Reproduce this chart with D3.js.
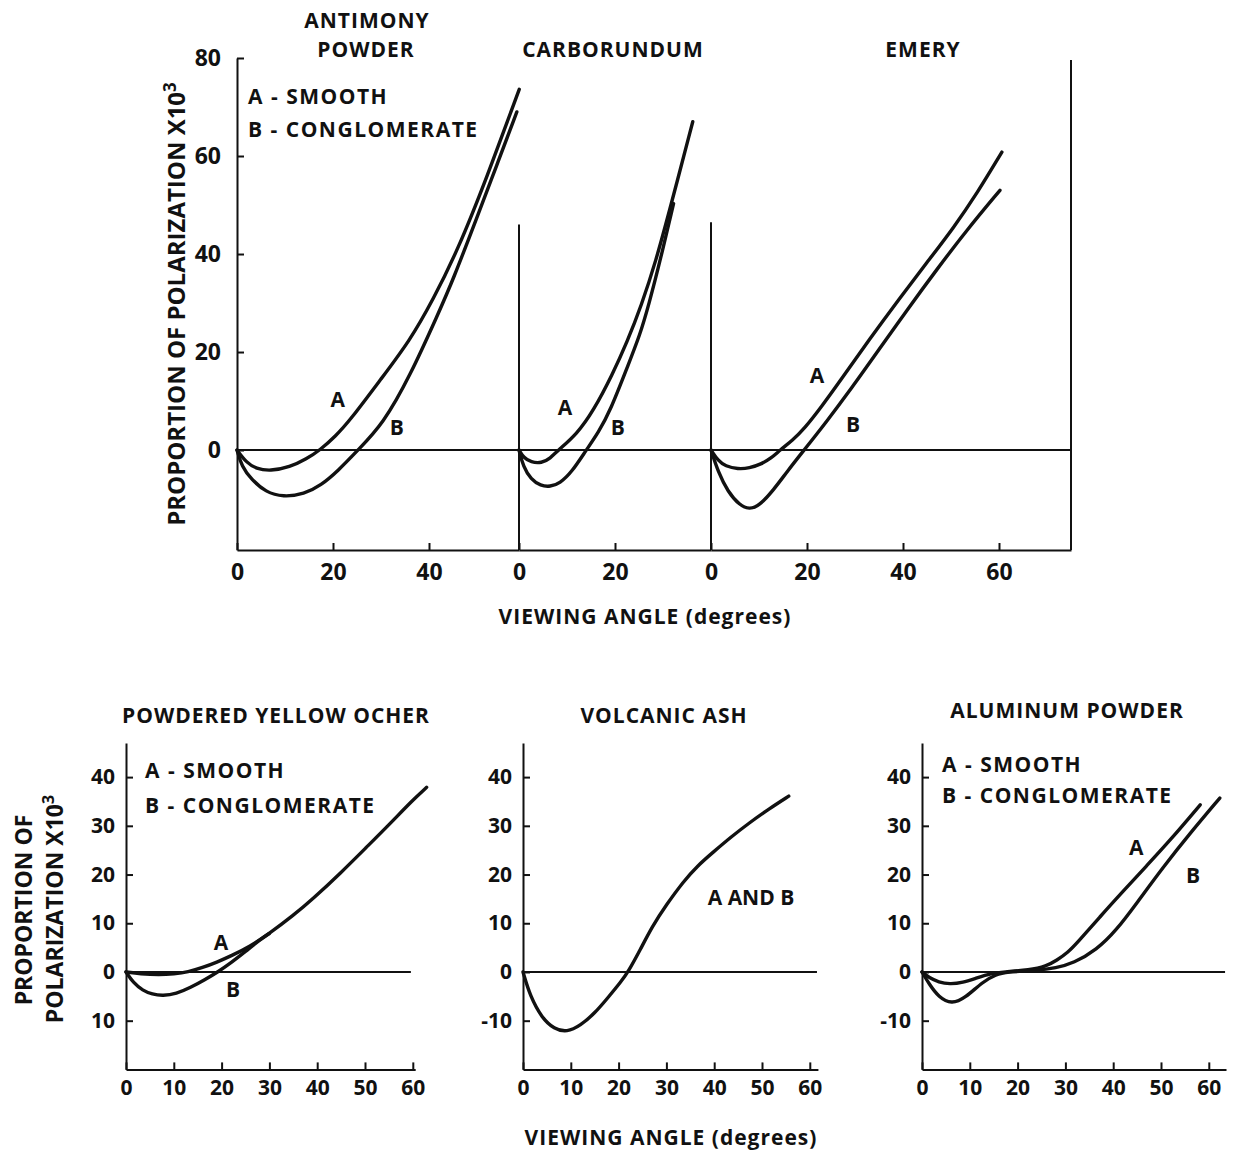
<!DOCTYPE html>
<html>
<head>
<meta charset="utf-8">
<script src="https://cdn.jsdelivr.net/npm/d3@7"></script>
<style>
  body { margin: 0; background: #fff; }
  svg text { font-family: 'Open Sans', sans-serif; font-weight: 700; fill: #111; }
  .axis path, .axis line { stroke: #111; stroke-width: 2; }
  .axis text { font-size: 23px; }
  .bottom .axis text { font-size: 21px; }
  .curve { fill: none; stroke: #111; stroke-width: 3.4; stroke-linecap: round; }
  .rule { stroke: #111; stroke-width: 2; }
  .title { font-size: 21px; letter-spacing: 1px; }
  .legend { font-size: 21px; letter-spacing: 1.5px; }
  .tag { font-size: 21px; }
  .ytitle { font-size: 24px; letter-spacing: 0px; }
  .bottom .ytitle { font-size: 23px; }
</style>
</head>
<body>
<div id="chart"></div>
<script>
// viewing angle (deg), proportion of polarization x10^3
var antimonyA = [[0,0],[2,-2.6],[4,-3.8],[6.9,-4.3],[11,-3.5],[14.5,-1.8],[17.3,0],[20.5,2.8],[23.5,6],[30,14.5],[36,22.3],[40.8,30.6],[46,40.8],[52,55.5],[58.8,73.6]];
var antimonyB = [[0,0],[1,-3.4],[3,-6],[6,-8.6],[9.6,-9.6],[14,-9],[17.5,-7.2],[21,-4.3],[25.2,0],[30.4,5.3],[36,15],[42,28],[45,34.7],[50,47.5],[54,57.8],[58.3,69]];
var carborundumA = [[0,0],[1,-1.6],[2.5,-2.5],[4.7,-2.7],[6.5,-1.7],[8.2,0],[12,3.2],[15.5,8],[19.5,15.5],[22.5,22],[25.5,29.5],[28.5,38.5],[31.4,49],[36.2,67]];
var carborundumB = [[0,0],[0.9,-3.4],[2.5,-6],[4.5,-7.3],[6.5,-7.5],[8.5,-6.8],[11,-4.5],[14,0],[16.5,3.5],[19.1,8.2],[22.6,17],[25.2,23.5],[27,29.5],[29.5,39],[32.2,50.3]];
var emeryA = [[0,0],[1.5,-2.2],[3,-3.3],[5.6,-3.9],[8,-3.7],[10.4,-2.9],[12.5,-1.7],[14.4,0],[17,2],[19.4,4.3],[23,8.8],[26.9,14.1],[33,22.6],[39.4,31.1],[45,38.3],[50.5,45.3],[55.5,52.5],[60.6,60.8]];
var emeryB = [[0,0],[1.5,-4.5],[3.5,-8.5],[6,-11.3],[8,-12.1],[10,-11.4],[13,-8.2],[16,-4.2],[19.4,0],[24,5.7],[29.2,12.5],[35,20.5],[41,28.8],[47,36.8],[53.3,44.9],[60.2,53]];
var ocherA = [[0,0],[3,-0.4],[7,-0.6],[10,-0.4],[13,0],[16,0.9],[19,2],[22,3.3],[25.9,5.2],[30,7.9],[35,11.6],[39.1,15],[45,20.4],[50.4,25.7],[55,30.2],[60,35.3],[62.9,37.9]];
var ocherB = [[0,0],[1.5,-2.2],[3.5,-3.8],[5.5,-4.6],[7.7,-4.9],[10.5,-4.5],[13.5,-3.2],[16.5,-1.6],[19.2,0],[22,1.9],[25,4.2],[28,6.6],[30,7.9]];
var volcanicAB = [[0,0],[1.5,-5],[4,-9.5],[6.5,-11.7],[9.2,-12.4],[12,-11],[15,-8.5],[18,-5],[20.5,-2],[22,0],[24.5,4.5],[27,9.3],[30,13.8],[33.5,18.5],[36.5,21.8],[39.8,24.6],[43.5,27.7],[47.6,30.8],[51.5,33.5],[55.6,36.1]];
var aluminumA = [[0,0],[1.5,-1.2],[3.5,-2.1],[5.8,-2.5],[8.5,-2.2],[11.5,-1.2],[14.5,-0.3],[17,0],[22.5,0.4],[26,1.2],[28.2,2.4],[30.5,4],[32.4,5.9],[37.2,11.3],[42.1,16.6],[47,21.8],[51.9,27],[58.2,34.3]];
var aluminumB = [[0,0],[1.5,-2.5],[3.5,-5.2],[6.2,-6.6],[9,-5.4],[12.7,-2],[15.5,-0.5],[17.7,0],[24,0.3],[28,0.8],[31.7,1.8],[36.5,4.5],[40.7,8.6],[44.9,14.1],[50.5,21.6],[56.1,28.5],[62.3,35.7]];

var topYTicks = [0, 20, 40, 60, 80];
var antimonyXTicks = [0, 20, 40];
var carborundumXTicks = [0, 20];
var emeryXTicks = [0, 20, 40, 60];
var bottomXTicks = [0, 10, 20, 30, 40, 50, 60];
var bottomYTicks = [40, 30, 20, 10, 0, -10];
var ocherYLabels = ["40", "30", "20", "10", "0", "10"];
var signedYLabels = ["40", "30", "20", "10", "0", "-10"];

function draw(){
    var svg = d3.select("#chart").append("svg")
        .attr("width", 1234)
        .attr("height", 1151)
        .style("background-color", "#fff");

    var line = function(x, y){
        return d3.line()
            .x(function(d){ return x(d[0]); })
            .y(function(d){ return y(d[1]); })
            .curve(d3.curveBasis);
    };

    // ---------- top figure: three panels sharing one y axis ----------
    var top = svg.append("g").attr("class", "top");
    var yTop = d3.scaleLinear().domain([-20.4, 80]).range([550, 58]);
    var pxDeg = 4.8;
    var segs = [
        { x0: 237, max: 58.75, ticks: antimonyXTicks, curves: [antimonyA, antimonyB],
          tags: [["A", 21, 8.8], ["B", 33.3, 3.1]] },
        { x0: 519, max: 40, ticks: carborundumXTicks, curves: [carborundumA, carborundumB],
          tags: [["A", 9.6, 7.1], ["B", 20.6, 3.1]], wall: 46 },
        { x0: 711, max: 75, ticks: emeryXTicks, curves: [emeryA, emeryB],
          tags: [["A", 22.1, 13.7], ["B", 29.6, 3.7]], wall: 46.5 }
    ];

    segs.forEach(function(s){
        var x = d3.scaleLinear().domain([0, s.max]).range([s.x0, s.x0 + s.max * pxDeg]);
        top.append("g")
            .attr("class", "axis")
            .attr("transform", "translate(0," + yTop(-20.4) + ")")
            .call(d3.axisBottom(x).tickValues(s.ticks).tickSizeInner(-7).tickSizeOuter(0).tickPadding(13))
            .selectAll("text").attr("dy", "0.75em");
        if (s.wall) {
            top.append("line").attr("class", "rule")
                .attr("x1", x(0)).attr("x2", x(0))
                .attr("y1", yTop(s.wall)).attr("y2", yTop(-20.4));
        }
        top.append("line").attr("class", "rule")
            .attr("x1", x(0)).attr("x2", x(s.max))
            .attr("y1", yTop(0)).attr("y2", yTop(0));
        s.curves.forEach(function(c){
            top.append("path").attr("class", "curve").attr("d", line(x, yTop)(c));
        });
        s.tags.forEach(function(t){
            top.append("text").attr("class", "tag")
                .attr("x", x(t[1])).attr("y", yTop(t[2]))
                .attr("text-anchor", "middle").text(t[0]);
        });
    });

    top.append("g")
        .attr("class", "axis")
        .attr("transform", "translate(237,0)")
        .call(d3.axisLeft(yTop).tickValues(topYTicks).tickSizeInner(-7).tickSizeOuter(0).tickPadding(16));

    top.append("line").attr("class", "rule")
        .attr("x1", 1071).attr("x2", 1071).attr("y1", 60).attr("y2", yTop(-20.4));

    top.append("text").attr("class", "title").attr("x", 367).attr("y", 28).attr("text-anchor", "middle").text("ANTIMONY");
    top.append("text").attr("class", "title").attr("x", 366).attr("y", 57).attr("text-anchor", "middle").text("POWDER");
    top.append("text").attr("class", "title").attr("x", 613).attr("y", 57).attr("text-anchor", "middle").text("CARBORUNDUM");
    top.append("text").attr("class", "title").attr("x", 923).attr("y", 57).attr("text-anchor", "middle").text("EMERY");

    top.append("text").attr("class", "legend").attr("x", 248).attr("y", 104).text("A - SMOOTH");
    top.append("text").attr("class", "legend").attr("x", 248).attr("y", 137).text("B - CONGLOMERATE");

    var yt = top.append("text").attr("class", "ytitle")
        .attr("transform", "translate(185,304) rotate(-90)")
        .attr("text-anchor", "middle");
    yt.append("tspan").text("PROPORTION OF POLARIZATION X10");
    yt.append("tspan").attr("dy", -9).style("font-size", "17px").text("3");

    top.append("text").attr("class", "title").attr("x", 645).attr("y", 624)
        .attr("text-anchor", "middle").text("VIEWING ANGLE (degrees)");

    // ---------- bottom figure: three separate panels ----------
    var bot = svg.append("g").attr("class", "bottom");
    var yBot = d3.scaleLinear().domain([-20, 47]).range([1069.4, 743]);
    var pxDegB = 4.78;
    var panels = [
        { x0: 126, max: 60.5, zero: 59.6, labels: ocherYLabels, curves: [ocherA, ocherB],
          title: "POWDERED YELLOW OCHER", tx: 276, ty: 723, legend: [145, 778, 813],
          tags: [["A", 19.9, 4.5], ["B", 22.4, -5.1]] },
        { x0: 523, max: 61.7, zero: 61.5, labels: signedYLabels, curves: [volcanicAB],
          title: "VOLCANIC ASH", tx: 664, ty: 723,
          tags: [["A AND B", 47.7, 13.8]] },
        { x0: 922, max: 63.6, zero: 63.4, labels: signedYLabels, curves: [aluminumA, aluminumB],
          title: "ALUMINUM POWDER", tx: 1067, ty: 718, legend: [942, 772, 803],
          tags: [["A", 44.8, 24], ["B", 56.7, 18.3]] }
    ];

    panels.forEach(function(p){
        var x = d3.scaleLinear().domain([0, p.max]).range([p.x0, p.x0 + p.max * pxDegB]);
        bot.append("g")
            .attr("class", "axis")
            .attr("transform", "translate(0," + yBot(-20) + ")")
            .call(d3.axisBottom(x).tickValues(bottomXTicks).tickSizeInner(-7).tickSizeOuter(0).tickPadding(10))
            .selectAll("text").attr("dy", "0.75em");
        bot.append("g")
            .attr("class", "axis")
            .attr("transform", "translate(" + p.x0 + ",0)")
            .call(d3.axisLeft(yBot).tickValues(bottomYTicks).tickSizeInner(-7).tickSizeOuter(0).tickPadding(11)
                .tickFormat(function(d, i){ return p.labels[i]; }));
        bot.append("line").attr("class", "rule")
            .attr("x1", x(0)).attr("x2", x(p.zero))
            .attr("y1", yBot(0)).attr("y2", yBot(0));
        p.curves.forEach(function(c){
            bot.append("path").attr("class", "curve").attr("d", line(x, yBot)(c));
        });
        p.tags.forEach(function(t){
            bot.append("text").attr("class", "tag")
                .attr("x", x(t[1])).attr("y", yBot(t[2]))
                .attr("text-anchor", "middle").text(t[0]);
        });
        bot.append("text").attr("class", "title")
            .attr("x", p.tx).attr("y", p.ty).attr("text-anchor", "middle").text(p.title);
        if (p.legend) {
            bot.append("text").attr("class", "legend").attr("x", p.legend[0]).attr("y", p.legend[1]).text("A - SMOOTH");
            bot.append("text").attr("class", "legend").attr("x", p.legend[0]).attr("y", p.legend[2]).text("B - CONGLOMERATE");
        }
    });

    bot.append("text").attr("class", "ytitle")
        .attr("transform", "translate(32,910) rotate(-90)")
        .attr("text-anchor", "middle").text("PROPORTION OF");
    var yb = bot.append("text").attr("class", "ytitle")
        .attr("transform", "translate(63,909) rotate(-90)")
        .attr("text-anchor", "middle");
    yb.append("tspan").text("POLARIZATION X10");
    yb.append("tspan").attr("dy", -9).style("font-size", "16px").text("3");

    bot.append("text").attr("class", "title").attr("x", 671).attr("y", 1145)
        .attr("text-anchor", "middle").text("VIEWING ANGLE (degrees)");
}

draw();
</script>
</body>
</html>
